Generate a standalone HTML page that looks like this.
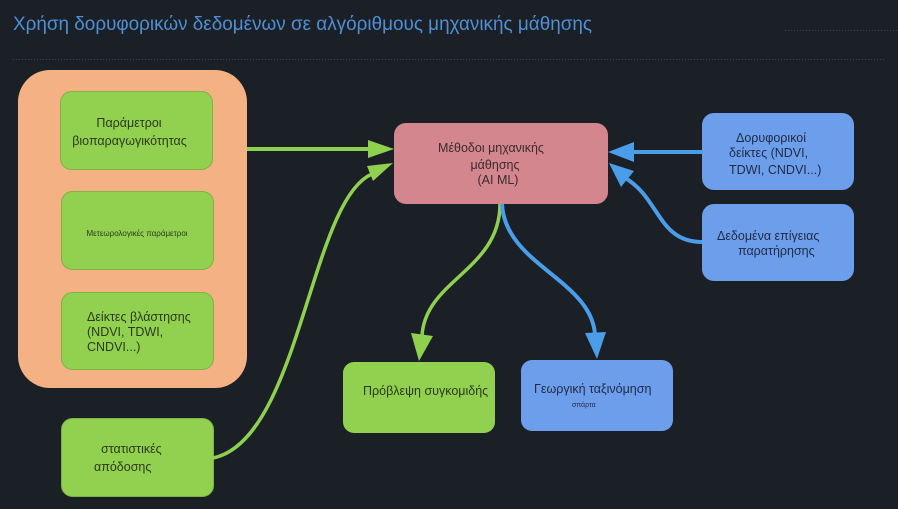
<!DOCTYPE html>
<html><head><meta charset="utf-8"><style>
html,body{margin:0;padding:0;background:#1b1f26;}
svg{display:block;}
text{font-family:"Liberation Sans","DejaVu Sans",sans-serif;}
</style></head><body>
<svg width="898" height="509" viewBox="0 0 898 509" xmlns="http://www.w3.org/2000/svg">
<rect width="898" height="509" fill="#1b1f26"/>
<text x="13" y="30" font-size="19" fill="#4e8fd6" textLength="579" lengthAdjust="spacingAndGlyphs">Χρήση δορυφορικών δεδομένων σε αλγόριθμους μηχανικής μάθησης</text>
<line x1="785" y1="30.5" x2="898" y2="30.5" stroke="#3a4250" stroke-width="1" stroke-dasharray="1,2"/>
<line x1="13" y1="59.5" x2="884" y2="59.5" stroke="#3a4250" stroke-width="1" stroke-dasharray="1,2"/>

<!-- orange group -->
<rect x="18" y="70" width="229" height="318" rx="32" fill="#f4b183"/>
<rect x="60.5" y="91.5" width="152" height="78" rx="11" fill="#92d050" stroke="#7cb543"/>
<rect x="61.5" y="191.5" width="152" height="78" rx="11" fill="#92d050" stroke="#7cb543"/>
<rect x="61.5" y="292.5" width="152" height="77" rx="11" fill="#92d050" stroke="#7cb543"/>
<g fill="#2b3a1c" font-size="12.5">
<text x="129" y="127" text-anchor="middle">Παράμετροι</text>
<text x="129.5" y="145" text-anchor="middle">βιοπαραγωγικότητας</text>
<text x="137" y="236" text-anchor="middle" font-size="8">Μετεωρολογικές παράμετροι</text>
<text x="87" y="321">Δείκτες βλάστησης</text>
<text x="87" y="336">(NDVI, TDWI,</text>
<text x="87" y="351">CNDVI...)</text>
</g>

<!-- statistics -->
<rect x="61.5" y="418.5" width="152" height="78" rx="11" fill="#92d050" stroke="#7cb543"/>
<g fill="#2b3a1c" font-size="12.5">
<text x="101" y="453">στατιστικές</text>
<text x="94" y="471">απόδοσης</text>
</g>

<!-- center -->
<rect x="394" y="123" width="214" height="81" rx="12" fill="#d4868f"/>
<g fill="#3b2a2e" font-size="12.5" text-anchor="middle">
<text x="491" y="152">Μέθοδοι μηχανικής</text>
<text x="495" y="169">μάθησης</text>
<text x="498" y="184">(AI ML)</text>
</g>

<!-- right blue -->
<rect x="702" y="113" width="152" height="77" rx="12" fill="#6d9eeb"/>
<rect x="702" y="204" width="152" height="77" rx="12" fill="#6d9eeb"/>
<g fill="#1f2b45" font-size="12.5">
<text x="736" y="142">Δορυφορικοί</text>
<text x="729" y="157">δείκτες (NDVI,</text>
<text x="729" y="174">TDWI, CNDVI...)</text>
<text x="717" y="240">Δεδομένα επίγειας</text>
<text x="738" y="255">παρατήρησης</text>
</g>

<!-- bottom -->
<rect x="343" y="362" width="152" height="71" rx="11" fill="#92d050"/>
<text x="363" y="395" font-size="12.5" fill="#2b3a1c">Πρόβλεψη συγκομιδής</text>
<rect x="521" y="360" width="152" height="71" rx="11" fill="#6d9eeb"/>
<text x="534" y="393" font-size="12.5" fill="#1f2b45">Γεωργική ταξινόμηση</text>
<text x="572" y="407" font-size="7" fill="#1f2b45">σπάρτα</text>

<!-- green arrows -->
<line x1="247" y1="149" x2="370" y2="149" stroke="#8fd14f" stroke-width="4"/>
<polygon points="368,140 394,149 368,158" fill="#8fd14f"/>
<path d="M213,458 C300,440 310,200 372,174" fill="none" stroke="#8fd14f" stroke-width="3.5"/>
<polygon points="367,166 393,163 373,181" fill="#8fd14f"/>
<path d="M500,204 C500,270 425,280 422,336" fill="none" stroke="#8fd14f" stroke-width="3.5"/>
<polygon points="411,333 433,336 419,361" fill="#8fd14f"/>

<!-- blue arrows -->
<line x1="702" y1="152" x2="632" y2="152" stroke="#4a9de8" stroke-width="4"/>
<polygon points="634,142 608,152 634,162" fill="#4a9de8"/>
<path d="M702,242 C675,242 665,225 655,210 C645,195 640,188 627,179" fill="none" stroke="#4a9de8" stroke-width="4"/>
<polygon points="609,163 634,171 621,187" fill="#4a9de8"/>
<path d="M502,204 C505,265 592,280 595,335" fill="none" stroke="#4a9de8" stroke-width="4"/>
<polygon points="585,333 606,332 597,359" fill="#4a9de8"/>
</svg>
</body></html>
